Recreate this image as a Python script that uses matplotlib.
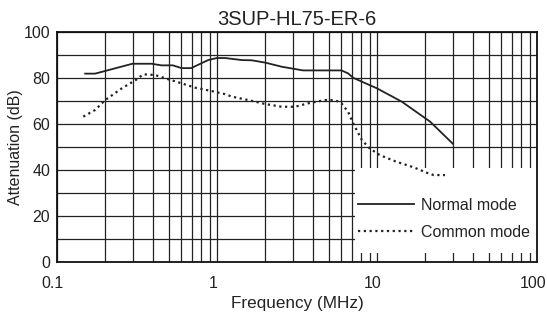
import matplotlib
matplotlib.use("Agg")
import matplotlib.pyplot as plt
from matplotlib.patches import Rectangle
from matplotlib.ticker import FixedLocator, FixedFormatter, NullFormatter
from matplotlib.transforms import ScaledTranslation

plt.rcParams['font.family'] = ['Liberation Sans', 'DejaVu Sans']

title = "3SUP-HL75-ER-6"

normal_f = [0.150, 0.173, 0.296, 0.39, 0.45, 0.53, 0.60, 0.69, 0.88, 1.0, 1.12, 1.43,
            1.65, 2.0, 2.54, 3.45, 6.0, 6.6, 7.1, 8.05, 10.0, 14.3, 21.5, 29.7]
normal_db = [81.9, 81.9, 86.2, 86.2, 85.5, 85.5, 84.3, 84.3, 87.8, 88.7, 88.7, 87.8,
             87.7, 86.7, 84.9, 83.3, 83.3, 82.0, 80.1, 78.4, 75.5, 69.7, 61.0, 51.5]

common_f = [0.146, 0.173, 0.20, 0.254, 0.31, 0.346, 0.41, 0.50, 0.60, 0.73, 0.93, 1.12,
            1.24, 1.57, 2.0, 2.54, 3.07, 3.72, 4.73, 5.46, 6.0, 6.6, 7.1, 8.05, 9.0,
            10.4, 13.2, 16.9, 20.5, 22.6, 26.6]
common_db = [63.2, 66.1, 70.4, 75.5, 79.1, 81.6, 81.3, 79.4, 77.7, 75.8, 74.3, 73.0,
             71.9, 70.4, 68.7, 67.5, 67.5, 69.0, 70.4, 70.4, 69.0, 65.3, 60.3, 53.0, 49.4,
             46.5, 43.6, 41.2, 38.8, 37.8, 37.8]

xticks = [0.1, 1, 10, 100]
xticklabels = ["0.1", "1", "10", "100"]
yticks = [0, 20, 40, 60, 80, 100]

fig = plt.figure(figsize=(5.47, 3.16), dpi=100)
ax = fig.add_axes([0.1042, 0.1709, 0.8775, 0.7278])

ax.set_xscale('log')
ax.set_xlim(0.1, 100)
ax.set_ylim(0, 100)

ax.xaxis.set_major_locator(FixedLocator(xticks))
ax.xaxis.set_major_formatter(FixedFormatter(xticklabels))
minor_x = [m * d for d in (0.1, 1, 10) for m in range(2, 10)]
ax.xaxis.set_minor_locator(FixedLocator(minor_x))
ax.xaxis.set_minor_formatter(NullFormatter())
ax.yaxis.set_major_locator(FixedLocator(yticks))
ax.yaxis.set_minor_locator(FixedLocator([10, 30, 50, 70, 90]))

ax.tick_params(which='both', length=0, labelsize=11.5, colors='#222222')
ax.tick_params(axis='x', pad=10)
ax.tick_params(axis='y', pad=5)
shift = ScaledTranslation(-4 / 100, 0, fig.dpi_scale_trans)
for lab in ax.get_xticklabels():
    lab.set_transform(lab.get_transform() + shift)

ax.grid(True, which='both', color='#222222', linewidth=0.9)
ax.set_axisbelow(True)
for s in ax.spines.values():
    s.set_linewidth(1.3)
    s.set_color('#111111')

# legend background box
ax.add_patch(Rectangle((0.621, 0.04), 0.379, 0.37, transform=ax.transAxes,
                       facecolor='white', edgecolor='none', zorder=1))

ax.plot(normal_f, normal_db, color='#222222', lw=1.3, label='Normal mode', zorder=3)
ax.plot(common_f, common_db, color='#222222', lw=1.6, linestyle=(0, (1, 1.6)),
        label='Common mode', zorder=3)

leg = ax.legend(loc='center left', bbox_to_anchor=(0.628, 0.189), frameon=False,
                fontsize=11.5, handlelength=3.5, handletextpad=0.4, labelspacing=0.75,
                borderpad=0, borderaxespad=0)
for t in leg.get_texts():
    t.set_color('#222222')

ax.set_title(title, fontsize=14.5, pad=5, color='#222222')
ax.set_xlabel("Frequency (MHz)", fontsize=12.3, color='#222222', labelpad=4)
ax.set_ylabel("Attenuation (dB)", fontsize=11.5, color='#222222', labelpad=0.5)

fig.savefig("out.png", dpi=100)
